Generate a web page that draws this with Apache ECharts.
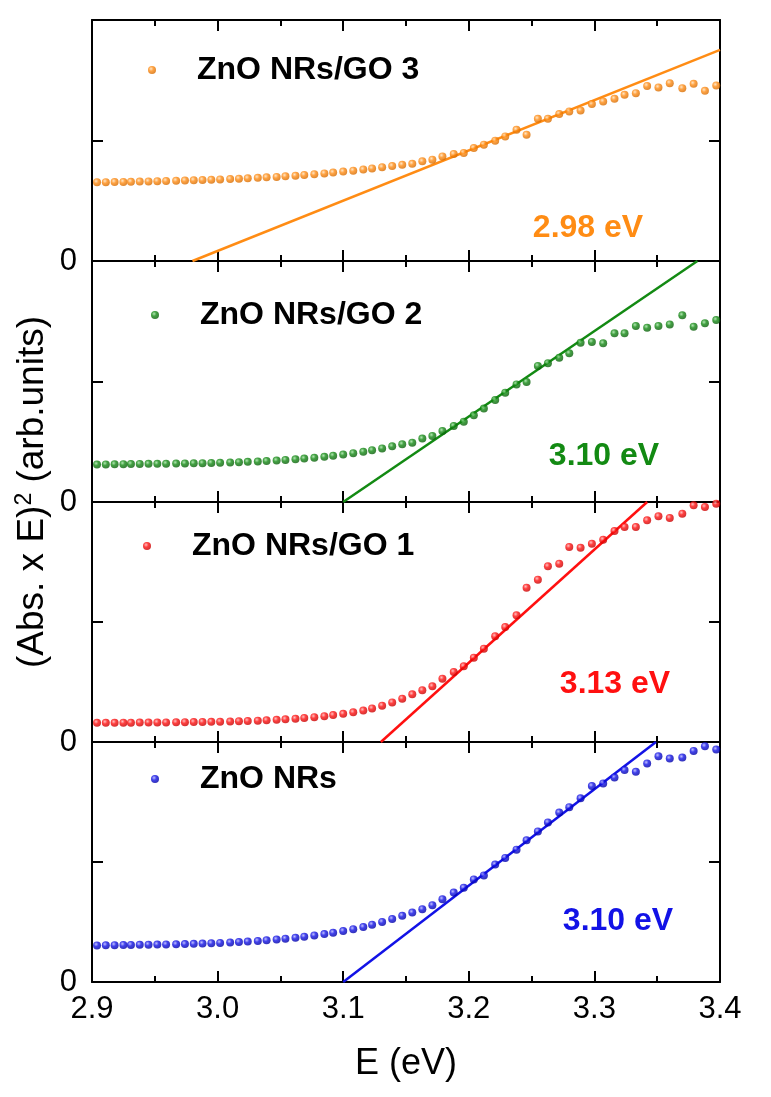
<!DOCTYPE html>
<html>
<head>
<meta charset="utf-8">
<script src="https://cdn.jsdelivr.net/npm/echarts@6/dist/echarts.min.js"></script>
<style>
html,body{margin:0;padding:0;background:#fff;}
#chart{width:771px;height:1097px;}
</style>
</head>
<body>
<div id="chart"></div>
<script>
// Photon energy (eV) of each measured point
const energy = [2.904,2.911,2.918,2.925,2.931,2.938,2.945,2.952,2.959,2.967,
  2.974,2.981,2.988,2.995,3.002,3.010,3.017,3.024,3.032,3.039,
  3.047,3.054,3.062,3.069,3.077,3.085,3.092,3.100,3.108,3.116,
  3.123,3.131,3.139,3.147,3.155,3.163,3.171,3.179,3.188,3.196,
  3.204,3.212,3.221,3.229,3.238,3.246,3.255,3.263,3.272,3.280,
  3.289,3.298,3.307,3.316,3.324,3.333,3.342,3.351,3.360,3.370,
  3.379,3.388,3.397];

// (Abs. x E)^2 in arbitrary units (panel scale 0..2)
const go3 = [0.653,0.654,0.655,0.656,0.657,0.659,0.660,0.662,0.664,0.666,
  0.668,0.670,0.672,0.674,0.677,0.680,0.683,0.686,0.690,0.694,
  0.698,0.703,0.708,0.714,0.720,0.727,0.734,0.742,0.750,0.759,
  0.768,0.778,0.788,
  0.799,0.807,0.827,0.841,0.868,0.888,0.896,0.937,0.965,0.998,
  1.034,1.089,1.048,1.180,1.180,1.219,1.241,1.249,1.302,1.324,
  1.346,1.379,1.393,1.453,1.440,1.476,1.434,1.470,1.412,1.456];

const go2 = [0.311,0.312,0.313,0.314,0.315,0.316,0.317,0.317,0.318,0.319,
  0.320,0.321,0.322,0.324,0.326,0.328,0.330,0.333,0.336,0.340,
  0.344,0.349,0.354,0.360,0.367,0.375,0.384,0.394,0.405,0.417,
  0.430,0.445,0.462,
  0.479,0.492,0.526,0.548,0.589,0.631,0.667,0.719,0.775,0.846,
  0.907,0.976,0.996,1.129,1.151,1.198,1.234,1.322,1.328,1.317,
  1.400,1.400,1.461,1.447,1.461,1.474,1.549,1.455,1.483,1.510];

const go1 = [0.160,0.160,0.160,0.161,0.161,0.162,0.162,0.163,0.163,0.164,
  0.165,0.166,0.167,0.168,0.169,0.171,0.173,0.175,0.178,0.181,
  0.185,0.189,0.194,0.200,0.207,0.215,0.224,0.235,0.247,0.262,
  0.280,0.303,0.330,
  0.361,0.397,0.431,0.464,0.528,0.583,0.631,0.703,0.778,0.881,
  0.958,1.056,1.286,1.353,1.464,1.486,1.625,1.619,1.653,1.686,
  1.758,1.792,1.792,1.847,1.881,1.867,1.903,1.972,1.958,1.986];

const nrs = [0.305,0.306,0.307,0.308,0.309,0.310,0.311,0.312,0.313,0.314,
  0.316,0.318,0.320,0.323,0.326,0.329,0.333,0.337,0.342,0.348,
  0.354,0.361,0.369,0.378,0.388,0.399,0.411,0.425,0.440,0.458,
  0.478,0.500,0.525,
  0.552,0.579,0.607,0.640,0.690,0.745,0.786,0.855,0.888,0.979,
  1.034,1.103,1.181,1.255,1.330,1.412,1.457,1.531,1.633,1.655,
  1.705,1.766,1.752,1.821,1.881,1.862,1.870,1.926,1.964,1.937];

// Linear (Tauc) fits: [E, value] end points
const fitGO3 = [[2.98, 0], [3.40, 1.752]];
const fitGO2 = [[3.10, 0], [3.382, 2.0]];
const fitGO1 = [[3.13, 0], [3.342, 2.0]];
const fitNRs = [[3.10, 0], [3.349, 2.0]];

const seriesNames = ['ZnO NRs/GO 3', 'ZnO NRs/GO 2', 'ZnO NRs/GO 1', 'ZnO NRs'];
const gapLabels = ['2.98 eV', '3.10 eV', '3.13 eV', '3.10 eV'];
const xTickLabels = ['2.9', '3.0', '3.1', '3.2', '3.3', '3.4'];

const panelValues = [go3, go2, go1, nrs];
const panelFits = [fitGO3, fitGO2, fitGO1, fitNRs];
const colors = ['#ff8c14', '#138a13', '#ff1010', '#1212e6'];
const lightColors = ['#ffe0b8', '#9fe09f', '#ffb0b0', '#b0b0ff'];
const darkColors = ['#d86c00', '#0a600a', '#c80000', '#0000a8'];

const FONT = "'Liberation Sans', Arial, sans-serif";
const gridTops = [20, 261, 502, 742];
const gridHeights = [241, 241, 240, 240];
const legendPos = [[148, 70], [151, 315], [143, 546], [151, 779]];
const gapPos = [[588, 228], [604, 456], [615, 684], [618, 921]];

const chart = echarts.init(document.getElementById('chart'), null, {renderer: 'canvas'});

const grids = [], xAxes = [], yAxes = [], series = [], legends = [], graphics = [];
const axisLineStyle = {color: '#000', width: 2};

for (let i = 0; i < 4; i++) {
  grids.push({left: 92, width: 628, top: gridTops[i], height: gridHeights[i], containLabel: false});
  const isBottom = i === 3;
  const baseX = {
    type: 'value', gridIndex: i, min: 2.9, max: 3.4, interval: 0.1,
    axisLine: {show: true, onZero: false, lineStyle: axisLineStyle},
    axisTick: {show: true, inside: true, length: 11, lineStyle: {color: '#000', width: 2}},
    minorTick: {show: true, splitNumber: 2, length: 6, lineStyle: {color: '#000', width: 2}},
    splitLine: {show: false}, minorSplitLine: {show: false}
  };
  xAxes.push(Object.assign({}, baseX, {
    position: 'bottom',
    axisLabel: {
      show: isBottom, margin: 12, color: '#000', fontSize: 31, fontFamily: FONT,
      formatter: function (v) { const k = Math.round((v - 2.9) * 10); return xTickLabels[k] !== undefined ? xTickLabels[k] : ''; }
    },
    name: isBottom ? 'E (eV)' : '', nameLocation: 'middle', nameGap: 64,
    nameTextStyle: {color: '#000', fontSize: 36, fontFamily: FONT}
  }));
  xAxes.push(Object.assign({}, baseX, {position: 'top', axisLabel: {show: false}}));
  const baseY = {
    type: 'value', gridIndex: i, min: 0, max: 2, interval: 1,
    axisLine: {show: true, onZero: false, lineStyle: axisLineStyle},
    axisTick: {show: true, inside: true, length: 11, lineStyle: {color: '#000', width: 2}},
    splitLine: {show: false}
  };
  yAxes.push(Object.assign({}, baseY, {
    position: 'left',
    axisLabel: {show: true, margin: 15, color: '#000', fontSize: 31, fontFamily: FONT,
      formatter: function (v) { return v === 0 ? '0' : ''; }}
  }));
  yAxes.push(Object.assign({}, baseY, {position: 'right', axisLabel: {show: false}}));

  const vals = panelValues[i];
  series.push({
    name: seriesNames[i], type: 'scatter', xAxisIndex: 2 * i, yAxisIndex: 2 * i,
    symbol: 'circle', symbolSize: 8,
    itemStyle: {
      color: {type: 'radial', x: 0.38, y: 0.35, r: 0.65,
        colorStops: [{offset: 0, color: lightColors[i]}, {offset: 0.45, color: colors[i]}, {offset: 1, color: darkColors[i]}]}
    },
    data: energy.map((e, k) => [e, vals[k]]),
    z: 3
  });
  series.push({
    name: seriesNames[i] + ' fit', type: 'line', xAxisIndex: 2 * i, yAxisIndex: 2 * i,
    showSymbol: false, symbol: 'none', silent: true, clip: true,
    lineStyle: {color: colors[i], width: 2.5},
    data: panelFits[i], z: 2
  });
  legends.push({
    data: [seriesNames[i]], left: legendPos[i][0], top: legendPos[i][1] - 19,
    padding: 0, icon: 'circle', itemWidth: 80, itemHeight: 8, itemGap: 0,
    selectedMode: false,
    textStyle: {color: '#000', fontSize: 32, fontWeight: 'bold', fontFamily: FONT, lineHeight: 38}
  });
  graphics.push({
    type: 'text', x: gapPos[i][0], y: gapPos[i][1],
    style: {text: gapLabels[i], fill: colors[i], font: 'bold 32px ' + FONT, align: 'center', verticalAlign: 'middle'}
  });
}

graphics.push({
  type: 'text', x: 33, y: 492, rotation: Math.PI / 2,
  style: {
    text: '(Abs. x E){sup|2} (arb.units)',
    fill: '#000', font: '37px ' + FONT, align: 'center', verticalAlign: 'middle',
    rich: {sup: {fontSize: 23, fontFamily: FONT, fill: '#000', verticalAlign: 'top', padding: [0, 0, 17, 0]}}
  }
});

chart.setOption({
  animation: false,
  backgroundColor: '#fff',
  grid: grids,
  xAxis: xAxes,
  yAxis: yAxes,
  legend: legends,
  series: series,
  graphic: graphics
});
</script>
</body>
</html>
